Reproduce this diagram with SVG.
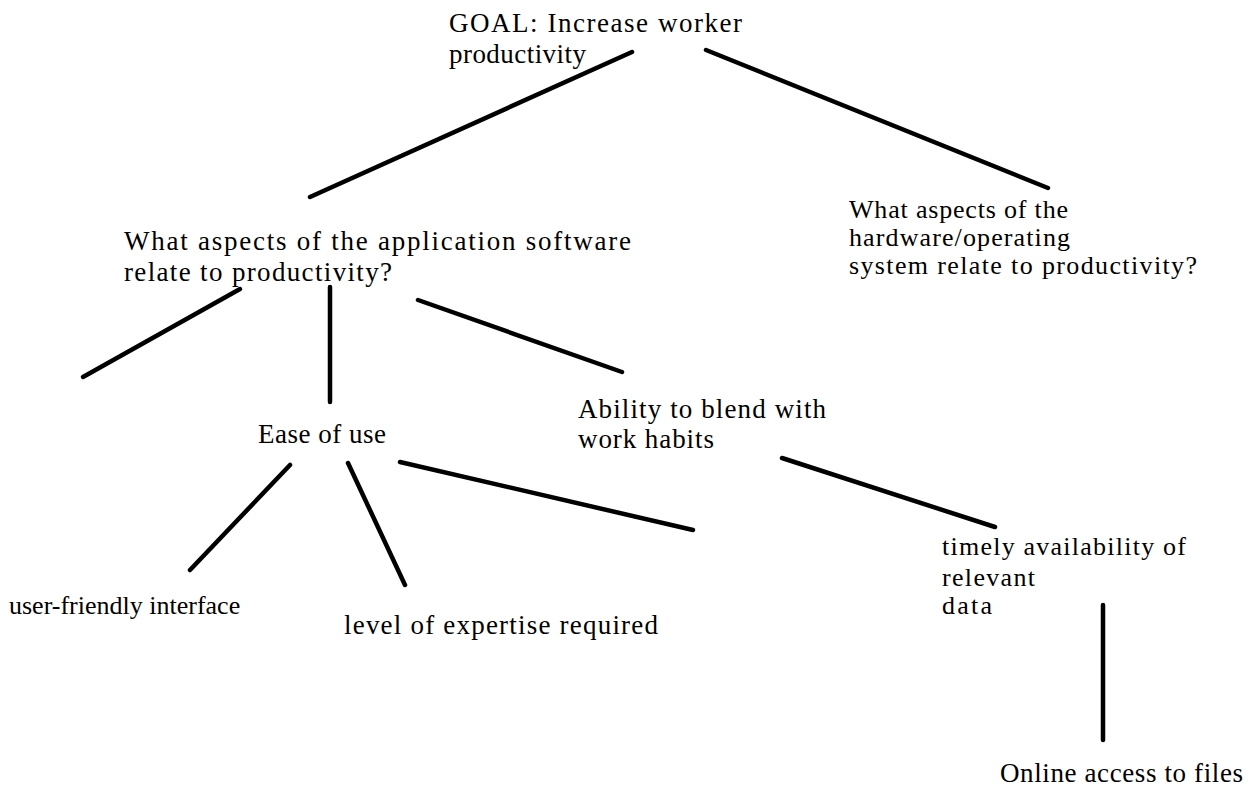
<svg xmlns="http://www.w3.org/2000/svg" width="1253" height="794" viewBox="0 0 1253 794">
<style>
text{font-family:"Liberation Serif","Times New Roman",serif;font-size:27px;fill:#000}
.md{font-size:26px}
.c line{stroke:#000;stroke-width:4.5;stroke-linecap:round}
</style>
<rect width="1253" height="794" fill="#fff"/>
<g class="c" id="connectors">
<line x1="632" y1="52" x2="310" y2="197"/>
<line x1="706" y1="50" x2="1048" y2="188"/>
<line x1="240" y1="289" x2="83" y2="377"/>
<line x1="330" y1="287" x2="330" y2="402"/>
<line x1="418" y1="300" x2="622" y2="372"/>
<line x1="290" y1="465" x2="190" y2="570"/>
<line x1="348" y1="463" x2="405" y2="585"/>
<line x1="400" y1="462" x2="693" y2="530"/>
<line x1="782" y1="458" x2="995" y2="527"/>
<line x1="1103" y1="605" x2="1103" y2="740"/>
</g>
<g id="goal"><text x="449" y="32" textLength="293" lengthAdjust="spacing">GOAL: Increase worker</text><text x="449" y="63" textLength="137" lengthAdjust="spacing">productivity</text></g>
<g id="software"><text x="124" y="250" textLength="507" lengthAdjust="spacing">What aspects of the application software</text><text x="124" y="281" textLength="268" lengthAdjust="spacing">relate to productivity?</text></g>
<g id="hardware"><text class="md" x="849" y="218" textLength="219" lengthAdjust="spacing">What aspects of the</text><text class="md" x="849" y="246" textLength="221" lengthAdjust="spacing">hardware/operating</text><text class="md" x="849" y="274" textLength="348" lengthAdjust="spacing">system relate to productivity?</text></g>
<g id="ease"><text x="258" y="443" textLength="128" lengthAdjust="spacing">Ease of use</text></g>
<g id="blend"><text x="578" y="418" textLength="248" lengthAdjust="spacing">Ability to blend with</text><text x="578" y="448" textLength="136" lengthAdjust="spacing">work habits</text></g>
<g id="timely"><text class="md" x="942" y="555" textLength="244" lengthAdjust="spacing">timely availability of</text><text class="md" x="942" y="586" textLength="93" lengthAdjust="spacing">relevant</text><text class="md" x="942" y="614" textLength="50" lengthAdjust="spacing">data</text></g>
<g id="friendly"><text class="md" x="9" y="614">user-friendly interface</text></g>
<g id="expertise"><text x="344" y="634" textLength="314" lengthAdjust="spacing">level of expertise required</text></g>
<g id="online"><text x="1000" y="782" textLength="243" lengthAdjust="spacing">Online access to files</text></g>
</svg>
